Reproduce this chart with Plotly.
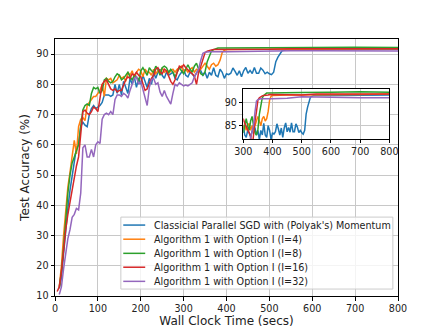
import plotly.graph_objects as go

# wall clock time grids (secs) and test accuracy (%)
blue_t = list(range(10, 545, 5)) + [600, 700, 800]
blue_v = [12.5, 16, 24, 32, 39, 45, 50, 54, 59, 60,
          66, 67.5, 66.5, 66, 70, 72, 73, 72, 72.5, 73,
          74, 76.5, 76.5, 76.5, 76, 76.5, 80, 77, 80, 76.5,
          81, 79, 77, 82, 80, 82.5, 79, 82, 80, 83,
          81, 79, 82, 80, 84, 82, 84, 85, 83, 82,
          84, 83, 83.5, 84, 82, 81.5, 83, 84, 85, 83,
          82.5, 84, 83.5, 82.5, 84, 85, 84.5, 83, 84, 82,
          84, 83, 85.5, 83, 82.5, 85, 84, 82, 83.5, 83.2,
          83.7, 85.4, 84.3, 83, 84.5, 82.5, 84.5, 85.6, 83.7, 84.6,
          83.6, 85.6, 83.7, 83.7, 85.4, 84.7, 83.5, 84, 83.5, 83.2,
          84, 87.5, 89, 90, 91.2, 91.3, 91.5,
          91.5, 91.6, 91.6]

orange_t = list(range(10, 405, 5)) + [450, 500, 600, 700, 800]
orange_v = [13, 20, 30, 39, 46, 51, 56, 61.5, 57, 66,
            68.5, 69, 68, 73, 74, 75, 76, 76, 77, 78,
            80, 76, 82, 81.5, 82, 80.5, 81, 81.5, 83, 82,
            82.5, 81, 84, 83, 84.5, 82, 84, 85, 84.5, 82.5,
            85, 84, 84, 83, 85, 83.5, 84.5, 84, 85.5, 84,
            84.5, 83.5, 84.5, 85, 84, 85, 85.5, 86, 84.5, 85,
            84, 85, 85.5, 84, 85, 84.5, 85, 86, 87, 86,
            85, 86.5, 87, 86, 86.5, 88, 90.5, 91.3, 91.5,
            91.6, 91.6, 91.7, 91.7, 91.8]

green_t = list(range(10, 395, 5)) + [450, 500, 600, 700, 800]
green_v = [13, 18, 26, 36, 44, 50, 54, 56, 58, 60,
           66, 71.5, 73, 73.5, 73, 77, 79, 78.5, 79, 77,
           78, 81.5, 82, 81, 80.5, 81, 82.5, 83.5, 83, 81.5,
           82, 83, 84, 82.5, 81.5, 83, 82.5, 81, 84.5, 85.5,
           84, 83, 85.5, 84.5, 84, 86, 85, 83, 85.5, 86,
           85.5, 84, 85, 84, 82.5, 84, 85.5, 84.5, 83.5, 85,
           86.5, 85, 84, 86, 87, 85, 83.5, 83, 84.2, 87.5,
           89.5, 91, 91.5, 91.8, 92, 92, 92,
           92.1, 92.1, 92.2, 92.3, 92.2]

red_t = list(range(5, 405, 5)) + [450, 500, 550, 600, 700, 800]
red_v = [11.5, 13, 18, 26, 32, 37, 41, 46, 50, 53,
         56, 63, 71, 71.5, 70.5, 70, 71, 72.5, 72, 71,
         76, 80, 81, 81.5, 80, 78.5, 78, 78.5, 77.5, 78,
         78, 80, 81.5, 82.5, 82, 83.5, 83, 84, 83, 82.5,
         80, 78, 78.5, 80.5, 82, 83, 85, 85.5, 84, 83.5,
         85, 84.5, 82.5, 81, 80, 81.5, 84, 86, 85.5, 86.5,
         85.5, 84.8, 84.2, 83.5, 82.8, 80, 84, 86, 88, 90.5,
         91, 91.3, 91.4, 91.5, 91.5, 91.6, 91.6, 91.7, 91.7, 91.7,
         91.7, 91.6, 91.8, 91.8, 91.8, 91.8]

purple_t = list(range(10, 365, 5)) + [400, 450, 500, 550, 600, 700, 800]
purple_v = [10.5, 13, 19, 25, 29, 32, 36, 37, 39, 38.5,
            44, 59, 60, 56, 56, 58.5, 56, 60, 61, 60.5,
            68.5, 70, 70.5, 70, 71, 70, 75, 76.5, 76.5, 76,
            77, 76.5, 75.5, 78, 80, 82, 82.5, 80, 81, 78,
            75, 73, 79, 81.5, 82, 80, 80.5, 77.5, 76, 78,
            76, 74.5, 73.5, 77, 80, 79.5, 80.5, 80, 79.5, 79.8,
            79.5, 80, 80.5, 82.5, 84, 85, 88, 90.3, 90.6, 90.7,
            90.8,
            90.8, 90.9, 91.2, 91.1, 91.1, 91.0, 91.0]

series = [
    ("Classicial Parallel SGD with (Polyak's) Momentum", blue_t, blue_v, "#1f77b4"),
    ("Algorithm 1 with Option I (I=4)", orange_t, orange_v, "#ff7f0e"),
    ("Algorithm 1 with Option I (I=8)", green_t, green_v, "#2ca02c"),
    ("Algorithm 1 with Option I (I=16)", red_t, red_v, "#d62728"),
    ("Algorithm 1 with Option I (I=32)", purple_t, purple_v, "#9467bd"),
]

fig = go.Figure()

for name, t, v, c in series:
    fig.add_trace(go.Scatter(x=t, y=v, mode="lines", name=name, showlegend=False,
                             line=dict(color=c, width=1.5)))

# zoomed-in inset
for name, t, v, c in series:
    fig.add_trace(go.Scatter(x=t, y=v, mode="lines", name=name, showlegend=False,
                             line=dict(color=c, width=1.5),
                             xaxis="x2", yaxis="y2"))

FS = 9.6
axis_style = dict(showline=True, linecolor="black", linewidth=1, mirror=True,
                  ticks="outside", ticklen=3.5, tickcolor="black",
                  showgrid=True, gridcolor="#c8c8c8", gridwidth=1,
                  zeroline=False, automargin=False, tickfont=dict(size=FS, color="#222"))

# legend drawn by hand so its rows are as tight as the original
leg_x0, leg_x1, leg_y0, leg_y1 = 0.192, 0.985, 0.027, 0.307
fig.add_shape(type="rect", xref="paper", yref="paper", layer="above",
              x0=leg_x0, x1=leg_x1, y0=leg_y0, y1=leg_y1,
              fillcolor="rgba(255,255,255,0.8)", line=dict(color="#cccccc", width=1))
row_y = [0.276, 0.221, 0.166, 0.112, 0.057]
for (name, t, v, c), ry in zip(series, row_y):
    fig.add_shape(type="line", xref="paper", yref="paper", layer="above",
                  x0=0.199, x1=0.263, y0=ry, y1=ry, line=dict(color=c, width=1.5))
    fig.add_annotation(text=name, xref="paper", yref="paper", x=0.282, y=ry,
                       xanchor="left", yanchor="middle", showarrow=False,
                       font=dict(size=FS, color="#222"))

# the page body adds an 8px offset, so the figure is 8px smaller and shifted
fig.update_layout(
    width=435, height=324,
    margin=dict(l=47, r=45, t=31, b=36),
    paper_bgcolor="white", plot_bgcolor="white",
    font=dict(family="DejaVu Sans", size=FS, color="#222"),
    xaxis=dict(range=[0, 800], dtick=100, domain=[0, 1],
               title=dict(text="Wall Clock Time (secs)", standoff=2), **axis_style),
    yaxis=dict(range=[10, 95], tickvals=[10, 20, 30, 40, 50, 60, 70, 80, 90], domain=[0, 1],
               title=dict(text="Test Accuracy (%)", standoff=4), **axis_style),
    xaxis2=dict(range=[300, 800], dtick=100, domain=[0.549, 0.975], anchor="y2", **axis_style),
    yaxis2=dict(range=[82.15, 92.85], tickvals=[85, 90], domain=[0.611, 0.805], anchor="x2",
                **axis_style),
    showlegend=False,
)

fig.write_html("out.html")
